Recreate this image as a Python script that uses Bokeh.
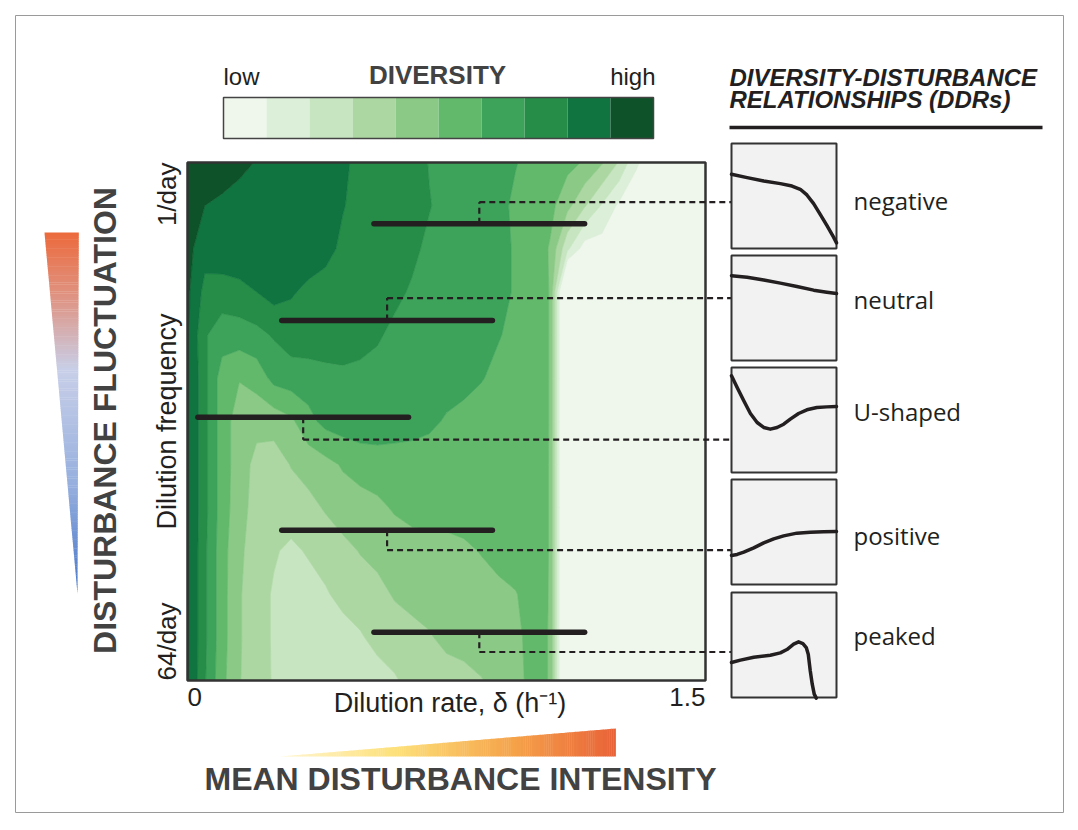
import numpy as np
from bokeh.plotting import figure
from bokeh.plotting.contour import contour_data
from bokeh.models import Range1d, ColumnDataSource
from bokeh.core.properties import value
from bokeh.embed import file_html
from bokeh.resources import INLINE

# ---------------------------------------------------------------- data
dilution_rate = [0.00, 0.05, 0.10, 0.15, 0.20, 0.25, 0.30, 0.35, 0.40, 0.45,
                 0.50, 0.55, 0.60, 0.65, 0.70, 0.75, 0.80, 0.85, 0.90, 0.95,
                 1.00, 1.05, 1.10, 1.15, 1.20, 1.25, 1.30, 1.35, 1.40, 1.45, 1.50]
# log2 of dilutions per day: 0 -> 1/day (top), 6 -> 64/day (bottom)
log2_frequency = [0.0, 0.5, 1.0, 1.5, 2.0, 2.5, 3.0, 3.5, 4.0, 4.5, 5.0, 5.5, 6.0]

# diversity class (1 = low ... 10 = high), one row per frequency
diversity = [
    [10.4, 10.2, 9.9, 9.75, 9.45, 9.0, 9.0, 8.9, 8.8, 8.7, 8.2, 8.0, 8.0, 8.0, 7.45, 7.0, 7.0, 7.0, 6.8, 6.55, 6.2, 6.0, 5.8, 5.4, 4.6, 3.4, 1.6, 1.0, 1.0, 1.0, 1.0],
    [10.3, 9.5, 9.35, 9.1, 9.1, 9.0, 9.0, 9.0, 8.9, 8.55, 8.2, 8.0, 8.0, 7.9, 7.55, 7.2, 7.0, 6.9, 6.8, 6.3, 6.1, 5.8, 4.8, 3.6, 2.4, 1.3, 1.0, 1.0, 1.0, 1.0, 1.0],
    [9.8, 8.9, 9.2, 9.2, 9.2, 9.1, 9.0, 9.0, 8.8, 8.3, 8.1, 8.0, 7.9, 7.7, 7.3, 7.1, 7.0, 6.9, 6.8, 6.4, 6.2, 5.4, 2.7, 1.0, 1.0, 1.0, 1.0, 1.0, 1.0, 1.0, 1.0],
    [9.7, 8.2, 8.0, 8.2, 8.5, 8.9, 8.6, 8.3, 8.1, 8.0, 8.0, 7.9, 7.7, 7.4, 7.1, 7.0, 7.0, 6.9, 6.8, 6.4, 6.1, 5.45, -2.0, 1.0, 1.0, 1.0, 1.0, 1.0, 1.0, 1.0, 1.0],
    [9.7, 7.6, 7.0, 7.0, 7.2, 7.6, 8.0, 8.1, 8.2, 8.2, 7.9, 7.6, 7.3, 7.1, 7.0, 7.0, 6.9, 6.8, 6.55, 6.3, 6.1, 5.45, -2.0, 1.0, 1.0, 1.0, 1.0, 1.0, 1.0, 1.0, 1.0],
    [9.7, 7.8, 6.0, 5.55, 5.9, 6.8, 7.0, 7.0, 7.1, 7.2, 7.2, 7.2, 7.1, 7.0, 7.0, 6.9, 6.8, 6.55, 6.3, 6.2, 6.1, 5.45, -2.0, 1.0, 1.0, 1.0, 1.0, 1.0, 1.0, 1.0, 1.0],
    [9.7, 7.8, 6.0, 5.0, 4.8, 4.9, 5.3, 6.2, 6.8, 7.0, 7.1, 7.1, 7.0, 6.9, 6.7, 6.4, 6.2, 6.1, 6.1, 6.1, 6.1, 5.45, -2.0, 1.0, 1.0, 1.0, 1.0, 1.0, 1.0, 1.0, 1.0],
    [9.7, 7.8, 6.0, 5.0, 4.2, 4.0, 4.55, 4.9, 5.2, 5.6, 5.9, 6.0, 6.0, 6.0, 6.0, 6.0, 6.0, 6.0, 6.0, 6.0, 6.0, 5.45, -2.0, 1.0, 1.0, 1.0, 1.0, 1.0, 1.0, 1.0, 1.0],
    [9.7, 7.8, 6.0, 4.9, 4.1, 4.0, 4.0, 4.2, 4.6, 5.0, 5.1, 5.3, 5.6, 5.9, 6.0, 6.0, 6.0, 6.0, 6.0, 6.0, 6.0, 5.45, -2.0, 1.0, 1.0, 1.0, 1.0, 1.0, 1.0, 1.0, 1.0],
    [9.7, 7.7, 5.9, 4.7, 4.0, 3.6, 3.3, 3.6, 3.9, 4.2, 4.55, 4.8, 5.0, 5.0, 5.0, 5.1, 5.3, 5.55, 5.9, 6.0, 6.0, 5.45, -2.0, 1.0, 1.0, 1.0, 1.0, 1.0, 1.0, 1.0, 1.0],
    [9.7, 7.7, 5.9, 4.6, 3.9, 3.4, 3.1, 3.1, 3.4, 3.8, 4.0, 4.2, 4.6, 4.9, 5.0, 5.0, 5.0, 5.1, 5.2, 5.45, 5.9, 5.45, -2.0, 1.0, 1.0, 1.0, 1.0, 1.0, 1.0, 1.0, 1.0],
    [9.7, 7.7, 5.9, 4.6, 3.9, 3.4, 3.0, 3.0, 3.0, 3.1, 3.4, 3.8, 4.0, 4.1, 4.4, 4.8, 5.0, 5.0, 5.1, 5.3, 5.8, 5.45, -2.0, 1.0, 1.0, 1.0, 1.0, 1.0, 1.0, 1.0, 1.0],
    [9.7, 7.6, 5.8, 4.55, 4.0, 3.4, 3.1, 3.0, 3.0, 3.0, 3.0, 3.1, 3.4, 3.8, 4.0, 4.0, 4.1, 4.45, 4.8, 5.2, 5.8, 5.45, -2.0, 1.0, 1.0, 1.0, 1.0, 1.0, 1.0, 1.0, 1.0],
]
level_edges = [-10, 1.5, 2.5, 3.5, 4.5, 5.5, 6.5, 7.5, 8.5, 9.5, 20]
diversity_colors = ["#eff7ec", "#dcefd9", "#c6e5c0", "#acd7a2", "#8bca86",
                    "#63b96b", "#3ea35a", "#258d47", "#0f743f", "#0d5229"]

rate_ticks = [0.0, 1.5]
rate_tick_labels = ["0", "1.5"]
freq_ticks = [0.0, 6.0]
freq_tick_labels = ["1/day", "64/day"]

# sampled dilution-rate windows (mean +/- half width) and their frequency
window_mean_rate = [0.845, 0.578, 0.335, 0.578, 0.845]
window_half_width = [0.305, 0.305, 0.305, 0.305, 0.305]
window_log2_frequency = [0.71, 1.83, 2.95, 4.26, 5.44]
link_log2_frequency = [0.46, 1.57, 3.21, 4.49, 5.67]

ddr_names = ["negative", "neutral", "U-shaped", "positive", "peaked"]
ddr_x = [
    [0, .149, .307, .465, .576, .655, .718, .782, .845, .908, .972, 1.0],
    [0, .149, .307, .465, .623, .782, .908, 1.0],
    [0, .054, .117, .180, .244, .307, .370, .434, .497, .560, .639, .718, .813, .908, 1.0],
    [0, .054, .117, .212, .307, .402, .497, .623, .750, .877, 1.0],
    [0, .085, .212, .370, .465, .528, .592, .639, .680, .712, .731, .750, .769, .788, .807],
]
ddr_y = [
    [.707, .675, .643, .618, .595, .564, .510, .427, .325, .220, .108, .054],
    [.808, .792, .766, .737, .705, .670, .651, .638],
    [.921, .810, .683, .562, .476, .429, .413, .429, .460, .508, .562, .597, .619, .625, .629],
    [.276, .286, .308, .349, .397, .435, .463, .489, .498, .502, .505],
    [.333, .356, .384, .403, .425, .457, .508, .530, .514, .476, .413, .254, .127, .032, -.006],
]

# ---------------------------------------------------------------- layout (pixels)
W, H = 1078, 830
HM_L, HM_R, HM_T, HM_B = 187, 705, 162, 680
PANEL_L, PANEL_R, PANEL_H = 731, 836, 105
PANEL_TOPS = [143, 255, 367, 479, 592]
LABEL_Y = [200, 299, 411, 535, 635]
INK = "#231f20"
TITLE = "#424242"
SANS = value("Liberation Sans")


def span_range(lo_px, hi_px, lo_val, hi_val, total):
    """Range putting lo_val at lo_px and hi_val at hi_px on a canvas axis."""
    s = (hi_val - lo_val) / (hi_px - lo_px)
    return Range1d(start=lo_val - lo_px * s, end=lo_val + (total - lo_px) * s)


p = figure(width=W, height=H, x_range=Range1d(0, W), y_range=Range1d(H, 0),
           output_backend="svg", toolbar_location=None,
           x_axis_location=None, y_axis_location=None, min_border=0,
           outline_line_color=None, background_fill_color="white",
           border_fill_color="white")
p.grid.visible = False

p.extra_x_ranges = {
    "rate": span_range(HM_L, HM_R, rate_ticks[0], rate_ticks[1], W),
    "ddr": span_range(PANEL_L, PANEL_R, 0, 1, W),
}
p.extra_y_ranges = {"freq": span_range(H - HM_B, H - HM_T, freq_ticks[1], freq_ticks[0], H)}
for k, top in enumerate(PANEL_TOPS):
    p.extra_y_ranges[f"ddr{k}"] = span_range(H - top - PANEL_H, H - top, 0, 1, H)

# outer frame
p.quad(left=[15], right=[1063], top=[15], bottom=[812], fill_color=None,
       line_color="#9a9a9a", line_width=1)

# ---------------------------------------------------------------- diversity map
cd = contour_data(dilution_rate, log2_frequency, np.array(diversity), level_edges,
                  want_line=False)
fill = cd.fill_data
src = ColumnDataSource(dict(xs=fill.xs, ys=fill.ys, color=diversity_colors))
p.multi_polygons(xs="xs", ys="ys", fill_color="color", line_color="color",
                 line_width=0.6, source=src, x_range_name="rate", y_range_name="freq")
p.quad(left=[rate_ticks[0]], right=[rate_ticks[1]], top=[freq_ticks[0]],
       bottom=[freq_ticks[1]], fill_color=None, line_color="#333333",
       line_width=2.5, x_range_name="rate", y_range_name="freq")

# rate windows and their links to the DDR panels
wm = np.array(window_mean_rate)
hw = np.array(window_half_width)
panel_rate = (PANEL_L - HM_L) / (HM_R - HM_L) * (rate_ticks[1] - rate_ticks[0])
p.segment(x0=list(wm), x1=list(wm), y0=window_log2_frequency, y1=link_log2_frequency,
          line_color=INK, line_width=2.2, line_dash="6 4",
          x_range_name="rate", y_range_name="freq")
p.segment(x0=list(wm), x1=[panel_rate] * len(wm), y0=link_log2_frequency,
          y1=link_log2_frequency, line_color=INK, line_width=2.2, line_dash="6 4",
          x_range_name="rate", y_range_name="freq")
p.segment(x0=list(wm - hw), x1=list(wm + hw), y0=window_log2_frequency,
          y1=window_log2_frequency, line_color=INK, line_width=5.5, line_cap="round",
          x_range_name="rate", y_range_name="freq")

# axis texts
p.text(x=[rate_ticks[0]], y=[696], text=[rate_tick_labels[0]], text_align="left",
       text_baseline="middle", text_font=SANS, text_font_size="26px",
       text_color=INK, x_range_name="rate")
p.text(x=[rate_ticks[1]], y=[696], text=[rate_tick_labels[1]], text_align="right",
       text_baseline="middle", text_font=SANS, text_font_size="26px",
       text_color=INK, x_range_name="rate")
p.text(x=[0.76], y=[702], text=["Dilution rate, \u03b4 (h\u207b\u00b9)"],
       text_align="center", text_baseline="middle", text_font=SANS,
       text_font_size="27px", text_color=INK, x_range_name="rate")
p.text(x=[166], y=[freq_ticks[0]], text=[freq_tick_labels[0]], angle=np.pi / 2,
       text_align="right", text_baseline="middle", text_font=SANS,
       text_font_size="26px", text_color=INK, y_range_name="freq")
p.text(x=[166], y=[freq_ticks[1]], text=[freq_tick_labels[1]], angle=np.pi / 2,
       text_align="left", text_baseline="middle", text_font=SANS,
       text_font_size="26px", text_color=INK, y_range_name="freq")
p.text(x=[166], y=[3.0], text=["Dilution frequency"], angle=np.pi / 2,
       text_align="center", text_baseline="middle", text_font=SANS,
       text_font_size="27px", text_color=INK, y_range_name="freq")

# ---------------------------------------------------------------- colour key
key_l, key_r, key_t, key_b = 223, 653, 97, 138
step = (key_r - key_l) / len(diversity_colors)
p.quad(left=[key_l + i * step for i in range(len(diversity_colors))],
       right=[key_l + (i + 1) * step for i in range(len(diversity_colors))],
       top=[key_t] * len(diversity_colors), bottom=[key_b] * len(diversity_colors),
       fill_color=diversity_colors, line_color=None)
p.quad(left=[key_l], right=[key_r], top=[key_t], bottom=[key_b], fill_color=None,
       line_color="#444444", line_width=1.5)
p.text(x=[key_l], y=[89], text=["low"], text_align="left", text_font=SANS,
       text_font_size="24px", text_color=INK)
p.text(x=[key_r + 2], y=[89], text=["high"], text_align="right", text_font=SANS,
       text_font_size="24px", text_color=INK)
p.text(x=[437], y=[89], text=["DIVERSITY"], text_align="center", text_font=SANS,
       text_font_size="26px", text_font_style="bold", text_color=TITLE)

# ---------------------------------------------------------------- DDR panels
p.text(x=[729, 729], y=[90, 112], text=["DIVERSITY-DISTURBANCE", "RELATIONSHIPS (DDRs)"],
       text_align="left", text_font=SANS, text_font_size="24px",
       text_font_style="bold italic", text_color=INK)
p.line([729, 1042], [127, 127], line_width=3.5, line_color=INK)
for k, name in enumerate(ddr_names):
    p.quad(left=[0], right=[1], bottom=[0], top=[1], fill_color="#f2f2f2",
           line_color="#333333", line_width=2, x_range_name="ddr",
           y_range_name=f"ddr{k}")
    p.line(ddr_x[k], ddr_y[k], line_width=3.5, line_color=INK, line_join="round",
           line_cap="round", x_range_name="ddr", y_range_name=f"ddr{k}")
p.text(x=[853] * len(ddr_names), y=LABEL_Y, text=ddr_names, text_align="left",
       text_baseline="middle", text_font=value("Open Sans"), text_font_size="24px",
       text_color=INK)


# ---------------------------------------------------------------- gradient wedges
def blend(stops, t):
    for (t0, c0), (t1, c1) in zip(stops, stops[1:]):
        if t <= t1:
            f = (t - t0) / (t1 - t0)
            return "#%02x%02x%02x" % tuple(int(round(a + (b - a) * f)) for a, b in zip(c0, c1))
    return "#%02x%02x%02x" % stops[-1][1]


fluct_stops = [(0.0, (236, 106, 60)), (0.19, (222, 150, 135)), (0.38, (200, 207, 232)),
               (0.7, (150, 175, 222)), (1.0, (70, 118, 200))]
n = 160
top_y, tip_y = 232, 593
xs, ys, cs = [], [], []
for i in range(n):
    y0 = top_y + (tip_y - top_y) * i / n
    y1 = top_y + (tip_y - top_y) * (i + 1) / n
    f0, f1 = (y0 - top_y) / (tip_y - top_y), (y1 - top_y) / (tip_y - top_y)
    xs.append([44 + 33 * f0, 78.3 - 1.3 * f0, 78.3 - 1.3 * f1, 44 + 33 * f1])
    ys.append([y0, y0, y1 + 0.4, y1 + 0.4])
    cs.append(blend(fluct_stops, (f0 + f1) / 2))
p.patches(xs, ys, fill_color=cs, line_color=None)

inten_stops = [(0.0, (255, 246, 210)), (0.35, (253, 224, 122)), (0.7, (245, 162, 74)),
               (1.0, (233, 98, 56))]
tip_x, end_x, base_y, peak_y = 279, 615, 756, 728
xs, ys, cs = [], [], []
for i in range(n):
    x0 = tip_x + (end_x - tip_x) * i / n
    x1 = tip_x + (end_x - tip_x) * (i + 1) / n
    f0, f1 = (x0 - tip_x) / (end_x - tip_x), (x1 - tip_x) / (end_x - tip_x)
    xs.append([x0, x1 + 0.4, x1 + 0.4, x0])
    ys.append([base_y - (base_y - peak_y) * f0, base_y - (base_y - peak_y) * f1, base_y, base_y])
    cs.append(blend(inten_stops, (f0 + f1) / 2))
p.patches(xs, ys, fill_color=cs, line_color=None)

p.text(x=[104], y=[420], text=["DISTURBANCE FLUCTUATION"], angle=np.pi / 2,
       text_align="center", text_baseline="middle", text_font=SANS,
       text_font_size="32px", text_font_style="bold", text_color=TITLE)
p.text(x=[460], y=[778], text=["MEAN DISTURBANCE INTENSITY"], text_align="center",
       text_baseline="middle", text_font=SANS, text_font_size="32px",
       text_font_style="bold", text_color=TITLE)

open("out.html", "w").write(file_html(p, INLINE))
